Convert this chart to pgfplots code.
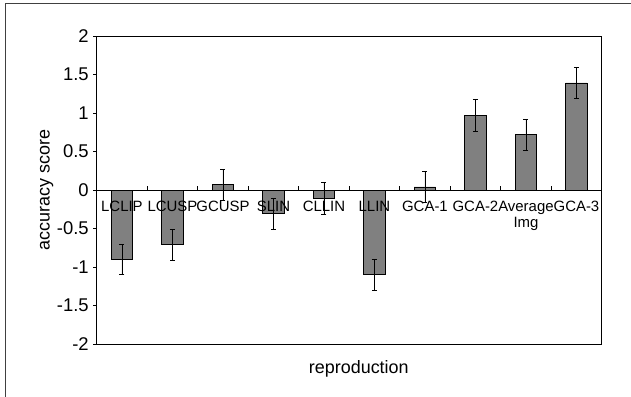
\documentclass[border=0pt]{standalone}
\usepackage{fontspec}
\setmainfont{Liberation Sans}
\usepackage{pgfplots}
\pgfplotsset{compat=1.18}
\definecolor{barfill}{RGB}{128,128,128}
\begin{document}
\begin{tikzpicture}
\useasboundingbox (0,0) rectangle (631bp,397bp);
\draw[line width=0.8bp, black!75] (5bp,0) -- (5bp,394bp) -- (631bp,394bp);
\begin{axis}[
  at={(96.7bp,53bp)}, anchor=south west,
  scale only axis, width=505bp, height=308bp,
  xmin=-0.5, xmax=9.5, ymin=-2, ymax=2,
  xtick=\empty,
  ytick={-2,-1.5,-1,-0.5,0,0.5,1,1.5,2},
  yticklabels={-2,-1.5,-1,-0.5,0,0.5,1,1.5,2},
  ytick pos=left,
  tick align=outside, major tick length=3.5bp,
  tick style={black, line width=0.8bp},
  yticklabel style={font=\fontsize{18.5}{20}\selectfont, xshift=-1bp},
  axis line style={line width=1bp},
  ylabel={accuracy score},
  ylabel style={at={(axis description cs:-0.099,0.5)}, anchor=center, font=\fontsize{18}{20}\selectfont},
  xlabel={reproduction},
  xlabel style={at={(axis description cs:0.519,-0.081)}, anchor=center, font=\fontsize{18}{20}\selectfont},
  clip=false,
]
\addplot[ybar, bar width=21.5bp, fill=barfill, draw=black, line width=0.8bp,
  error bars/.cd, y dir=both, y explicit,
  error mark options={rotate=90, mark size=2.5bp, line width=0.8bp},
  error bar style={line width=0.8bp}]
  table[x=x, y=y, y error=e] {
x y e
0 -0.90 0.20
1 -0.71 0.20
2 0.07 0.20
3 -0.31 0.20
4 -0.11 0.21
5 -1.10 0.20
6 0.04 0.20
7 0.966 0.21
8 0.72 0.20
9 1.39 0.20
};
\draw[line width=0.8bp] (axis cs:-0.5,0) -- (axis cs:9.5,0);
\pgfplotsinvokeforeach{0.5,1.5,2.5,3.5,4.5,5.5,6.5,7.5,8.5}{
  \draw[line width=0.8bp] (axis cs:#1,0) -- ([yshift=4bp]axis cs:#1,0);
}
\node[anchor=north, inner sep=0pt, yshift=-11bp, font=\fontsize{15}{16}\selectfont] at (axis cs:0,0) {LCLIP};
\node[anchor=north, inner sep=0pt, yshift=-11bp, font=\fontsize{15}{16}\selectfont] at (axis cs:1,0) {LCUSP};
\node[anchor=north, inner sep=0pt, yshift=-11bp, font=\fontsize{15}{16}\selectfont] at (axis cs:2,0) {GCUSP};
\node[anchor=north, inner sep=0pt, yshift=-11bp, font=\fontsize{15}{16}\selectfont] at (axis cs:3,0) {SLIN};
\node[anchor=north, inner sep=0pt, yshift=-11bp, font=\fontsize{15}{16}\selectfont] at (axis cs:4,0) {CLLIN};
\node[anchor=north, inner sep=0pt, yshift=-11bp, font=\fontsize{15}{16}\selectfont] at (axis cs:5,0) {LLIN};
\node[anchor=north, inner sep=0pt, yshift=-11bp, font=\fontsize{15}{16}\selectfont] at (axis cs:6,0) {GCA-1};
\node[anchor=north, inner sep=0pt, yshift=-11bp, font=\fontsize{15}{16}\selectfont] at (axis cs:7,0) {GCA-2};
\node[anchor=north, inner sep=0pt, yshift=-11bp, font=\fontsize{15}{16}\selectfont, align=center] at (axis cs:8,0) {Average\\Img};
\node[anchor=north, inner sep=0pt, yshift=-11bp, font=\fontsize{15}{16}\selectfont] at (axis cs:9,0) {GCA-3};
\end{axis}
\end{tikzpicture}
\end{document}
